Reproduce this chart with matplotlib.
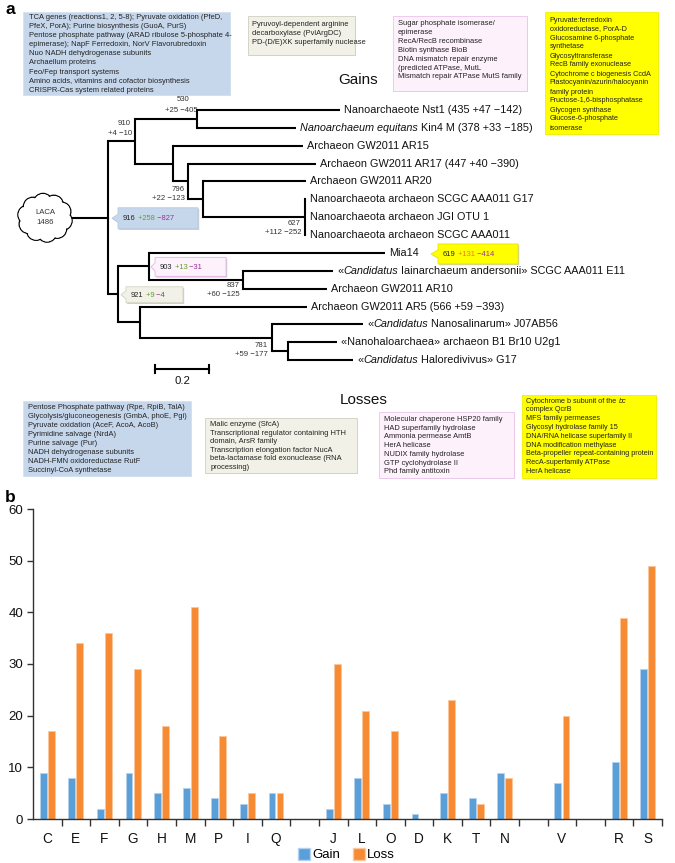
import matplotlib
matplotlib.use('Agg')
import matplotlib.pyplot as plt
from matplotlib.patches import Polygon, Circle
from matplotlib.lines import Line2D
import numpy as np

plt.rcParams['font.family'] = ['Liberation Sans', 'DejaVu Sans']

MINUS = '\u2212'

# ---------------- data: tree ----------------
leaf_labels = [
    [("Nanoarchaeote Nst1 (435 +47 " + MINUS + "142)", "n")],
    [("Nanoarchaeum equitans", "i"), (" Kin4 M (378 +33 " + MINUS + "185)", "n")],
    [("Archaeon GW2011 AR15", "n")],
    [("Archaeon GW2011 AR17 (447 +40 " + MINUS + "390)", "n")],
    [("Archaeon GW2011 AR20", "n")],
    [("Nanoarchaeota archaeon SCGC AAA011 G17", "n")],
    [("Nanoarchaeota archaeon JGI OTU 1", "n")],
    [("Nanoarchaeota archaeon SCGC AAA011", "n")],
    [("Mia14", "n")],
    [("\u00ab", "n"), ("Candidatus", "i"), (" Iainarchaeum andersonii\u00bb SCGC AAA011 E11", "n")],
    [("Archaeon GW2011 AR10", "n")],
    [("Archaeon GW2011 AR5 (566 +59 " + MINUS + "393)", "n")],
    [("\u00ab", "n"), ("Candidatus", "i"), (" Nanosalinarum\u00bb J07AB56", "n")],
    [("\u00abNanohaloarchaea\u00bb archaeon B1 Br10 U2g1", "n")],
    [("\u00ab", "n"), ("Candidatus", "i"), (" Haloredivivus\u00bb G17", "n")],
]
leaf_depth = [0.859, 0.696, 0.722, 0.770, 0.733, 0.730, 0.730, 0.730,
              1.026, 0.833, 0.811, 0.737, 0.944, 0.848, 0.907]
leaf_parent = ['n530', 'n530', 'nA', 'n796', 'nB', 'n627', 'n627', 'n627',
               'n903', 'n837', 'n837', 'nC', 'n781', 'nD', 'nD']

inner_names = ['root', 'n910', 'n530', 'nA', 'n796', 'nB', 'n627',
               'n921', 'n903', 'n837', 'nC', 'n781', 'nD']
inner_parent = [None, 'root', 'n910', 'n910', 'nA', 'n796', 'nB',
                'root', 'n921', 'n903', 'n921', 'nC', 'n781']
inner_depth = [0.0, 0.100, 0.330, 0.241, 0.296, 0.352, 0.730,
               0.037, 0.152, 0.500, 0.119, 0.607, 0.667]

count_nodes = ['n530', 'n910', 'n796', 'n627', 'n837', 'n781']
count_total = [530, 910, 796, 627, 837, 781]
count_gain = [25, 4, 22, 112, 60, 59]
count_loss = [405, 10, 123, 252, 125, 177]

callout_nodes = ['root', 'n903', 'n921', 'L8']
callout_total = [916, 903, 921, 619]
callout_gain = [258, 13, 9, 131]
callout_loss = [827, 31, 4, 414]

laca_total = 1486
scale_value = 0.2

gains_blue = ["TCA genes (reactions1, 2, 5-8); Pyruvate oxidation (PfeD,",
              "PfeX, PorA); Purine biosynthesis (GuoA, PurS)",
              "Pentose phosphate pathway (ARAD ribulose 5-phosphate 4-",
              "epimerase); NapF Ferredoxin, NorV Flavorubredoxin",
              "Nuo NADH dehydrogenase subunits",
              "Archaellum proteins",
              "Feo/Fep transport systems",
              "Amino acids, vitamins and cofactor biosynthesis",
              "CRISPR-Cas system related proteins"]
gains_beige = ["Pyruvoyl-dependent arginine",
               "decarboxylase (PvlArgDC)",
               "PD-(D/E)XK superfamily nuclease"]
gains_pink = ["Sugar phosphate isomerase/",
              "epimerase",
              "RecA/RecB recombinase",
              "Biotin synthase BioB",
              "DNA mismatch repair enzyme",
              "(predicted ATPase, MutL",
              "Mismatch repair ATPase MutS family"]
gains_yellow = ["Pyruvate:ferredoxin",
                "oxidoreductase, PorA-D",
                "Glucosamine 6-phosphate",
                "synthetase",
                "Glycosyltransferase",
                "RecB family exonuclease",
                "Cytochrome c biogenesis CcdA",
                "Plastocyanin/azurin/halocyanin",
                "family protein",
                "Fructose-1,6-bisphosphatase",
                "Glycogen synthase",
                "Glucose-6-phosphate",
                "isomerase"]
losses_blue = ["Pentose Phosphate pathway (Rpe, RpiB, TalA)",
               "Glycolysis/gluconeogenesis (GmbA, phoE, Pgi)",
               "Pyruvate oxidation (AceF, AcoA, AcoB)",
               "Pyrimidine salvage (NrdA)",
               "Purine salvage (Pur)",
               "NADH dehydrogenase subunits",
               "NADH-FMN oxidoreductase RutF",
               "Succinyl-CoA synthetase"]
losses_beige = ["Malic enzyme (SfcA)",
                "Transcriptional regulator containing HTH",
                "domain, ArsR family",
                "Transcription elongation factor NucA",
                "beta-lactamase fold exonuclease (RNA",
                "processing)"]
losses_pink = ["Molecular chaperone HSP20 family",
               "HAD superfamily hydrolase",
               "Ammonia permease AmtB",
               "HerA helicase",
               "NUDIX family hydrolase",
               "GTP cyclohydrolase II",
               "Phd family antitoxin"]
losses_yellow = [[("Cytochrome b subunit of the ", "n"), ("bc", "i")],
                 "complex QcrB",
                 "MFS family permeases",
                 "Glycosyl hydrolase family 15",
                 "DNA/RNA helicase superfamily II",
                 "DNA modification methylase",
                 "Beta-propeller repeat-containing protein",
                 "RecA-superfamily ATPase",
                 "HerA helicase"]

# ---------------- data: bar chart ----------------
categories = ['C', 'E', 'F', 'G', 'H', 'M', 'P', 'I', 'Q', '', 'J', 'L', 'O', 'D',
              'K', 'T', 'N', '', 'V', '', 'R', 'S']
gain = [9, 8, 2, 9, 5, 6, 4, 3, 5, np.nan, 2, 8, 3, 1, 5, 4, 9, np.nan, 7, np.nan, 11, 29]
loss = [17, 34, 36, 29, 18, 41, 16, 5, 5, np.nan, 30, 21, 17, 0, 23, 3, 8, np.nan, 20, np.nan, 39, 49]

# ---------------- styles ----------------
TXT = '#222222'
GREEN = '#5f9e2c'
PURPLE = '#9a2f98'
ORANGE_T = '#f07a18'
BLUE_BOX = '#c6d7ec'
BEIGE_BOX = '#f1f1e7'
PINK_BOX = '#fdf1fc'
YELLOW_BOX = '#ffff00'
GAIN_C = '#5b9fd9'
LOSS_C = '#f68b33'
LEAF_FS = 7.85
BOX_FS = 5.4
NODE_FS = 5.6

W, H = 675, 863
fig = plt.figure(figsize=(W / 100, H / 100), dpi=100)
renderer = fig.canvas.get_renderer()

# pixel axes (y down)
axp = fig.add_axes([0, 0, 1, 1])
axp.set_xlim(0, W)
axp.set_ylim(H, 0)
axp.axis('off')

# tree axes: branch-length units horizontally, leaf index vertically
X0, PXU = 108.0, 270.0          # root pixel x, pixels per unit
Y0, DY = 110.0, 17.87           # first leaf pixel y, leaf spacing
ax_t = fig.add_axes([0, 0, 1, 1], facecolor='none')
ax_t.set_xlim(-X0 / PXU, (W - X0) / PXU)
ax_t.set_ylim((H - Y0) / DY, -Y0 / DY)
ax_t.axis('off')


def t2p(x, y):
    return axp.transData.inverted().transform(ax_t.transData.transform((x, y)))


def seg_text(x, y, segs, size, color=TXT, zorder=6):
    for s, st in segs:
        kw = {}
        col = color
        if isinstance(st, tuple):
            col = st[1]
            st = st[0]
        if st == 'i':
            kw['style'] = 'italic'
        t = axp.text(x, y, s, fontsize=size, va='center', ha='left', color=col,
                     zorder=zorder, **kw)
        x += t.get_window_extent(renderer).width
    return x


# ---- compute tree layout ----
depth = dict(zip(inner_names, inner_depth))
children = {n: [] for n in inner_names}
ypos = {}
for i, (p, d) in enumerate(zip(leaf_parent, leaf_depth)):
    name = 'L%d' % i
    depth[name] = d
    ypos[name] = i
    children[p].append(name)
for n, p in zip(inner_names, inner_parent):
    if p is not None:
        children[p].append(n)


def get_y(n):
    if n in ypos:
        return ypos[n]
    ys = [get_y(c) for c in children[n]]
    ypos[n] = (min(ys) + max(ys)) / 2.0
    return ypos[n]


get_y('root')

LW = 1.5
for n in inner_names:
    ys = [ypos[c] for c in children[n]]
    ax_t.plot([depth[n], depth[n]], [min(ys), max(ys)], color='black', lw=LW,
              solid_capstyle='projecting', zorder=2)
    for c in children[n]:
        ax_t.plot([depth[n], depth[c]], [ypos[c], ypos[c]], color='black', lw=LW,
                  solid_capstyle='butt', zorder=2)

# leaf labels
for i, segs in enumerate(leaf_labels):
    px, py = t2p(depth['L%d' % i], i)
    seg_text(px + 4.5, py, segs, LEAF_FS, color='#111111')

# node count labels
node_off = {'n530': (-14, -19, -16, -8, 'center'), 'n910': (-4, -18, -3, -8, 'right'),
            'n796': (-3, 8, -3, 17, 'right'), 'n627': (-4, 6, -3, 15, 'right'),
            'n837': (-3, 6, -3, 15, 'right'), 'n781': (-4, 8, -4, 17, 'right')}
for n, tot, g, l in zip(count_nodes, count_total, count_gain, count_loss):
    px, py = t2p(depth[n], ypos[n])
    dx1, dy1, dx2, dy2, ha = node_off[n]
    axp.text(px + dx1, py + dy1, str(tot), fontsize=NODE_FS, ha=ha, va='center', color='#333333')
    axp.text(px + dx2, py + dy2, '+%d %s%d' % (g, MINUS, l), fontsize=NODE_FS, ha=ha,
             va='center', color='#333333')

# LACA cloud + stem
rx, ry = t2p(0, ypos['root'])
cx, cy = rx - 63, ry
angles = np.linspace(0, 2 * np.pi, 10, endpoint=False) + 0.2
for a in angles:
    axp.add_patch(Circle((cx + 18 * np.cos(a), cy + 15 * np.sin(a)), 9.5, fc='white',
                         ec='black', lw=0.9, zorder=3))
for a in angles:
    axp.add_patch(Circle((cx + 18 * np.cos(a), cy + 15 * np.sin(a)), 8.7, fc='white',
                         ec='none', zorder=4))
axp.add_patch(Circle((cx, cy), 17, fc='white', ec='none', zorder=4))
axp.text(cx, cy - 5, 'LACA', fontsize=5.6, ha='center', va='center', color='#333333', zorder=5)
axp.text(cx, cy + 4.5, str(laca_total), fontsize=5.6, ha='center', va='center', color='#333333', zorder=5)
axp.plot([cx + 21, rx], [ry, ry], color='black', lw=LW, zorder=2)


# callouts
def callout(xtip, ytip, w, h, face, edge, segs, notch=5):
    hh = 4
    x0 = xtip + notch
    pts = [(x0, ytip - h / 2), (x0 + w, ytip - h / 2), (x0 + w, ytip + h / 2), (x0, ytip + h / 2),
           (x0, ytip + hh), (xtip, ytip), (x0, ytip - hh)]
    axp.add_patch(Polygon([(a + 1.2, b + 1.2) for a, b in pts], closed=True, fc='#cfcfcf',
                          ec='none', zorder=3))
    axp.add_patch(Polygon(pts, closed=True, fc=face, ec=edge, lw=0.6, zorder=4))
    seg_text(x0 + 5, ytip + 0.5, segs, 5.4)


callout_style = {'root': (4, 0.5, 80, 21, BLUE_BOX, '#b5c9e3', 6, GREEN),
                 'n903': (2, 0.5, 71, 19, PINK_BOX, '#e6b3e6', 4, GREEN),
                 'n921': (3, 0.5, 57, 16, BEIGE_BOX, '#d3d3c3', 5, GREEN),
                 'L8': (46, 1, 80, 20, YELLOW_BOX, '#e6e600', 7, ORANGE_T)}
for n, tot, g, l in zip(callout_nodes, callout_total, callout_gain, callout_loss):
    px, py = t2p(depth[n], ypos[n])
    dx, dy, w, h, fc, ec, notch, gc = callout_style[n]
    callout(px + dx, py + dy, w, h, fc, ec,
            [(str(tot), 'n'), (' +%d' % g, ('n', gc)), (' %s%d' % (MINUS, l), ('n', PURPLE))],
            notch=notch)

# scale bar
sx0 = (155 - X0) / PXU
sy = (369 - Y0) / DY
ax_t.plot([sx0, sx0 + scale_value], [sy, sy], color='black', lw=1.5, zorder=2)
for xx in (sx0, sx0 + scale_value):
    ax_t.plot([xx, xx], [sy - 0.22, sy + 0.22], color='black', lw=1.5, zorder=2)
bx, by = t2p(sx0 + scale_value / 2, sy)
axp.text(bx, by + 12, '%.1f' % scale_value, fontsize=8.2, ha='center', va='center', color='#111111')


# gain/loss boxes
def textbox(x0, y0, x1, y1, face, edge, lines, tx, ty0, dy, size=BOX_FS):
    axp.add_patch(Polygon([(x0 + 1, y0 + 1), (x1 + 1, y0 + 1), (x1 + 1, y1 + 1), (x0 + 1, y1 + 1)],
                          closed=True, fc='#d8d8d8', ec='none', zorder=1))
    axp.add_patch(Polygon([(x0, y0), (x1, y0), (x1, y1), (x0, y1)], closed=True, fc=face,
                          ec=edge, lw=0.6, zorder=2))
    for i, line in enumerate(lines):
        segs = [(line, 'n')] if isinstance(line, str) else line
        seg_text(tx, ty0 + i * dy, segs, size, color='#222222', zorder=3)


textbox(23, 12.5, 230, 95, BLUE_BOX, '#d5e2f2', gains_blue, 29, 17.5, 9.1)
textbox(248, 16, 355, 55, BEIGE_BOX, '#cfcfc0', gains_beige, 252.5, 24.5, 9.0)
textbox(393, 16, 527, 91, PINK_BOX, '#ebc4ea', gains_pink, 398, 23.5, 8.9)
textbox(545, 12, 658, 134, YELLOW_BOX, '#f0f000', gains_yellow, 549.5, 20, 9.0, size=5.25)

textbox(23, 401, 191, 476, BLUE_BOX, '#d5e2f2', losses_blue, 28, 407, 9.0)
textbox(205, 418, 357, 473, BEIGE_BOX, '#cfcfc0', losses_beige, 210.5, 424.5, 8.5)
textbox(379, 412, 514, 478, PINK_BOX, '#ebc4ea', losses_pink, 384, 419.5, 8.7)
textbox(522, 395, 656, 478, YELLOW_BOX, '#f0f000', losses_yellow, 526.5, 401, 8.8, size=5.2)

axp.text(338, 80, 'Gains', fontsize=11, ha='left', va='center', color='#111111')
axp.text(340, 400, 'Losses', fontsize=11, ha='left', va='center', color='#111111')
axp.text(5, 9, 'a', fontsize=12.5, fontweight='bold', ha='left', va='center', color='black')
axp.text(5, 497, 'b', fontsize=12.5, fontweight='bold', ha='left', va='center', color='black')

# ---------------- panel b ----------------
L, R, T, B = 33, 662, 509, 819
ax_b = fig.add_axes([L / W, 1 - B / H, (R - L) / W, (B - T) / H])
x = np.arange(len(categories))
g = np.array(gain, dtype=float)
l = np.array(loss, dtype=float)
mg = ~np.isnan(g)
ml = ~np.isnan(l) & (l > 0)
ax_b.bar(x[mg] - 0.14, g[mg], 0.24, color=GAIN_C, edgecolor='#b3d2ef', lw=0.6, label='Gain', zorder=2)
ax_b.bar(x[ml] + 0.14, l[ml], 0.24, color=LOSS_C, edgecolor='#fcc79a', lw=0.6, label='Loss', zorder=2)
ax_b.set_xlim(-0.5, len(categories) - 0.5)
ax_b.set_ylim(0, 60)
ax_b.set_yticks(np.arange(0, 61, 10))
ax_b.set_xticks(np.arange(0.5, len(categories), 1))
ax_b.set_xticklabels([])
ax_b.set_xticks(x, minor=True)
ax_b.set_xticklabels(categories, minor=True)
ax_b.tick_params(axis='x', which='major', length=5, width=1, color='#333333', direction='out')
ax_b.tick_params(axis='x', which='minor', length=0, pad=9, labelsize=9.8, labelcolor='#111111')
ax_b.tick_params(axis='y', length=4, width=1, color='#333333', labelsize=9.5, labelcolor='#111111', pad=3)
for s in ('top', 'right'):
    ax_b.spines[s].set_visible(False)
for s in ('left', 'bottom'):
    ax_b.spines[s].set_color('#333333')
    ax_b.spines[s].set_linewidth(1)
ax_b.set_facecolor('none')

handles = [Line2D([], [], marker='s', ls='none', markersize=9, markerfacecolor=GAIN_C,
                  markeredgecolor='#b3d2ef', label='Gain'),
           Line2D([], [], marker='s', ls='none', markersize=9, markerfacecolor=LOSS_C,
                  markeredgecolor='#fcc79a', label='Loss')]
fig.legend(handles=handles, loc='center', bbox_to_anchor=(346 / W, 1 - 855 / H), ncol=2,
           frameon=False, fontsize=9.5, handletextpad=0.15, columnspacing=0.9, handlelength=1.0)

fig.savefig('out.png', dpi=100)
